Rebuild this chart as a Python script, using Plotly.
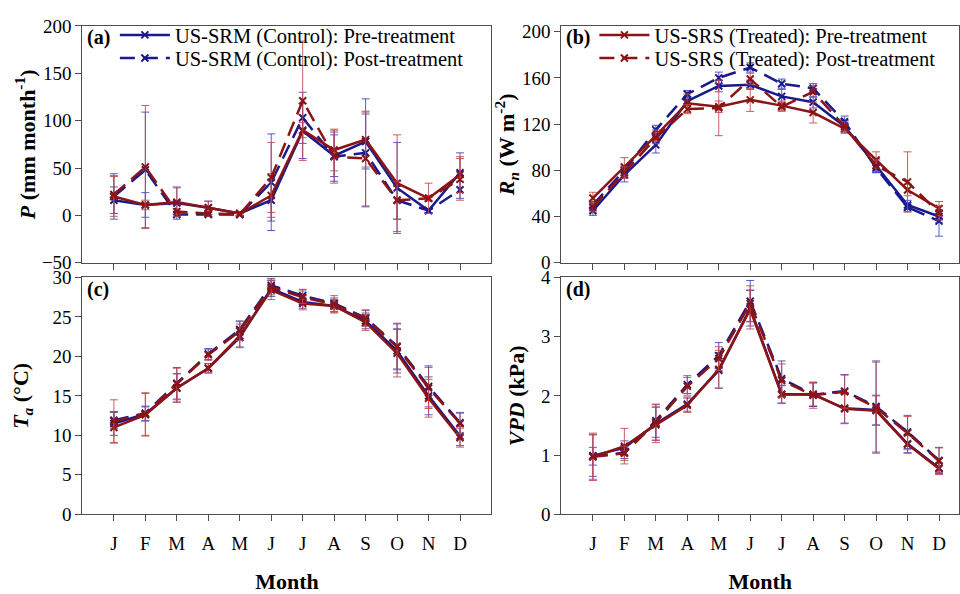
import plotly.graph_objects as go

months = ["J", "F", "M", "A", "M", "J", "J", "A", "S", "O", "N", "D"]
xpos = list(range(1, 13))

# Panel (a): Precipitation P (mm month-1)
p_ctrl_pre = [16, 11, 13, 8, 2, 16, 89, 63, 78, 29, 5, 45]
p_ctrl_post = [20, 48, 1, 1, 1, 35, 103, 62, 66, 16, 5, 27]
p_trt_pre = [20, 11, 14, 8, 2, 21, 90, 69, 80, 34, 18, 43]
p_trt_post = [22, 51, 4, 2, 1, 40, 121, 62, 60, 16, 18, 38]
p_ctrl_pre_err = [14, 13, 17, 7, 2, 22, 29, 22, 29, 48, 2, 21]
p_ctrl_post_err = [24, 61, 2, 2, 1, 51, 27, 26, 57, 20, 2, 9]
p_trt_pre_err = [21, 5, 15, 7, 2, 23, 8, 22, 29, 51, 16, 19]
p_trt_post_err = [20, 65, 3, 3, 1, 37, 63, 28, 50, 20, 3, 22]

# Panel (b): Net radiation Rn (W m-2)
r_ctrl_pre = [45, 76, 102, 140, 153, 154, 144, 139, 118, 84, 50, 40]
r_ctrl_post = [50, 80, 115, 146, 160, 169, 155, 151, 122, 82, 48, 36]
r_trt_pre = [56, 83, 110, 138, 135, 141, 136, 130, 116, 89, 63, 47]
r_trt_post = [48, 78, 108, 133, 134, 159, 135, 148, 118, 84, 70, 43]
r_ctrl_pre_err = [4, 6, 7, 4, 5, 4, 6, 5, 5, 6, 4, 5]
r_ctrl_post_err = [3, 4, 4, 3, 5, 4, 4, 4, 5, 4, 4, 13]
r_trt_pre_err = [5, 8, 5, 8, 5, 10, 4, 9, 4, 7, 5, 6]
r_trt_post_err = [4, 5, 5, 4, 24, 5, 4, 5, 4, 5, 26, 6]

# Panel (c): Air temperature Ta (degC)
t_ctrl_pre = [11.5, 12.7, 16.0, 18.5, 22.4, 28.6, 26.9, 26.4, 24.5, 20.7, 15.0, 9.9]
t_ctrl_post = [11.9, 12.8, 16.6, 20.3, 23.4, 29.0, 27.7, 26.7, 24.9, 21.3, 16.2, 11.6]
t_trt_pre = [11.0, 12.6, 16.0, 18.5, 22.6, 28.4, 26.7, 26.4, 24.3, 20.4, 14.7, 9.7]
t_trt_post = [11.8, 12.7, 16.5, 20.2, 23.2, 28.8, 27.5, 26.6, 24.8, 21.2, 16.0, 11.5]
t_ctrl_pre_err = [1.5, 0.9, 1.8, 0.6, 1.2, 1.0, 0.8, 0.7, 1.0, 2.8, 2.4, 1.2]
t_ctrl_post_err = [1.0, 0.9, 2.0, 0.7, 1.1, 0.9, 0.8, 0.7, 1.0, 2.9, 2.6, 1.3]
t_trt_pre_err = [2.0, 2.7, 1.8, 0.6, 1.5, 1.2, 0.8, 0.8, 1.0, 3.0, 2.4, 1.2]
t_trt_post_err = [2.7, 2.7, 2.0, 0.7, 1.2, 1.0, 0.8, 1.1, 1.0, 2.9, 2.6, 1.3]

# Panel (d): Vapour pressure deficit VPD (kPa)
v_ctrl_pre = [0.99, 1.12, 1.53, 1.86, 2.43, 3.48, 2.03, 2.02, 1.79, 1.76, 1.19, 0.78]
v_ctrl_post = [0.98, 1.04, 1.58, 2.19, 2.68, 3.60, 2.29, 2.02, 2.08, 1.82, 1.39, 0.91]
v_trt_pre = [0.97, 1.15, 1.51, 1.84, 2.45, 3.46, 2.02, 2.03, 1.78, 1.75, 1.18, 0.77]
v_trt_post = [0.97, 1.03, 1.55, 2.16, 2.63, 3.56, 2.26, 2.01, 2.07, 1.80, 1.37, 0.90]
v_ctrl_pre_err = [0.35, 0.12, 0.28, 0.12, 0.30, 0.30, 0.15, 0.20, 0.25, 0.25, 0.15, 0.08]
v_ctrl_post_err = [0.15, 0.10, 0.28, 0.15, 0.22, 0.35, 0.30, 0.20, 0.28, 0.77, 0.28, 0.22]
v_trt_pre_err = [0.40, 0.30, 0.30, 0.12, 0.32, 0.33, 0.15, 0.20, 0.25, 0.25, 0.15, 0.10]
v_trt_post_err = [0.38, 0.12, 0.30, 0.15, 0.20, 0.30, 0.28, 0.22, 0.28, 0.77, 0.28, 0.22]

series_names = [
    "US-SRM (Control): Pre-treatment",
    "US-SRM (Control): Post-treatment",
    "US-SRS (Treated): Pre-treatment",
    "US-SRS (Treated): Post-treatment",
]

BLUE = "#1a1a8c"
RED = "#8c1414"
BLUE_ERR = "rgba(60,60,200,0.85)"
RED_ERR = "rgba(190,70,70,0.85)"
FONT = "Liberation Serif, Times New Roman, serif"
AXIS_COLOR = "#4d4d4d"

styles = [
    (BLUE, BLUE_ERR, "solid"),
    (BLUE, BLUE_ERR, "15px,8px"),
    (RED, RED_ERR, "solid"),
    (RED, RED_ERR, "15px,8px"),
]

panels = [
    ("x", "y", [p_ctrl_pre, p_ctrl_post, p_trt_pre, p_trt_post],
     [p_ctrl_pre_err, p_ctrl_post_err, p_trt_pre_err, p_trt_post_err]),
    ("x2", "y2", [r_ctrl_pre, r_ctrl_post, r_trt_pre, r_trt_post],
     [r_ctrl_pre_err, r_ctrl_post_err, r_trt_pre_err, r_trt_post_err]),
    ("x3", "y3", [t_ctrl_pre, t_ctrl_post, t_trt_pre, t_trt_post],
     [t_ctrl_pre_err, t_ctrl_post_err, t_trt_pre_err, t_trt_post_err]),
    ("x4", "y4", [v_ctrl_pre, v_ctrl_post, v_trt_pre, v_trt_post],
     [v_ctrl_pre_err, v_ctrl_post_err, v_trt_pre_err, v_trt_post_err]),
]

# legend assignment: panel (a) shows control series, panel (b) shows treated series
legend_for = {(0, 0): "legend", (0, 1): "legend3", (1, 2): "legend2", (1, 3): "legend4"}

fig = go.Figure()
for pi, (xa, ya, vals, errs) in enumerate(panels):
    for si in range(4):
        color, ecolor, dash = styles[si]
        leg = legend_for.get((pi, si))
        fig.add_trace(go.Scatter(
            x=xpos, y=vals[si], xaxis=xa, yaxis=ya,
            mode="lines+markers",
            name=series_names[si],
            line=dict(color=color, width=2.5, dash=dash),
            marker=dict(symbol="x-thin", size=7, line=dict(color=color, width=2)),
            error_y=dict(type="data", array=errs[si], visible=True,
                         color=ecolor, thickness=1, width=4),
            showlegend=leg is not None,
            legend=leg if leg else "legend",
        ))

W, H = 960, 594
dom_x_left = [82.5 / W, 492 / W]
dom_x_right = [562 / W, 1.0]
dom_y_top = [1 - 262 / H, 1 - 16.5 / H]
dom_y_bot = [1 - 522.7 / H, 1 - 277.3 / H]

tickfont = dict(family=FONT, size=19, color="black")
titlefont = dict(family=FONT, size=22, color="black")

def xaxis(domain, rng, labels, anchor):
    d = dict(domain=domain, range=rng, anchor=anchor,
             tickmode="array", tickvals=xpos, ticktext=months,
             showticklabels=labels, ticks="outside", ticklen=6, tickwidth=1,
             tickcolor=AXIS_COLOR, showline=True, linecolor=AXIS_COLOR, linewidth=1,
             mirror=True, showgrid=False, zeroline=False, tickfont=tickfont,
             ticklabelstandoff=6)
    if labels:
        d["title"] = dict(text="<b>Month</b>", font=titlefont, standoff=22)
    return d

def yaxis(domain, rng, dtick, title, anchor, standoff):
    return dict(domain=domain, range=rng, anchor=anchor, dtick=dtick, tick0=0,
                ticks="outside", ticklen=6, tickwidth=1, tickcolor=AXIS_COLOR,
                showline=True, linecolor=AXIS_COLOR, linewidth=1, mirror=True,
                showgrid=False, zeroline=False, tickfont=tickfont,
                title=dict(text=title, font=titlefont, standoff=standoff))

xr_right = (W - 562) / 31.5

def legend_at(xpx, ypx):
    return dict(x=xpx / W, y=1 - ypx / H, xanchor="left", yanchor="middle",
                bgcolor="rgba(0,0,0,0)", borderwidth=0, itemwidth=50,
                font=dict(family=FONT, size=20.5, color="black"))

def panel_label(text, xpx, ypx):
    return dict(text="<b>%s</b>" % text, x=xpx / W, y=1 - ypx / H,
                xref="paper", yref="paper", xanchor="left", yanchor="middle",
                showarrow=False, font=dict(family=FONT, size=20, color="black"))

fig.update_layout(
    width=W, height=H,
    margin=dict(l=0, r=0, t=0, b=0),
    paper_bgcolor="white", plot_bgcolor="white",
    font=dict(family=FONT, color="black"),
    xaxis=xaxis(dom_x_left, [0, 13], False, "y"),
    yaxis=yaxis(dom_y_top, [-50, 200], 50,
                "<b><i>P</i> (mm month<sup>-1</sup>)</b>", "x", 0),
    xaxis2=xaxis(dom_x_right, [0, xr_right], False, "y2"),
    yaxis2=yaxis(dom_y_top, [0, 205], 40,
                 "<b><i>R</i><sub><i>n</i></sub> (W m<sup>-2</sup>)</b>", "x2", 0),
    xaxis3=xaxis(dom_x_left, [0, 13], True, "y3"),
    yaxis3=yaxis(dom_y_bot, [0, 30], 5,
                 "<b><i>T</i><sub><i>a</i></sub> (°C)</b>", "x3", 17),
    xaxis4=xaxis(dom_x_right, [0, xr_right], True, "y4"),
    yaxis4=yaxis(dom_y_bot, [0, 4], 1, "<b><i>VPD</i> (kPa)</b>", "x4", 10),
    legend=legend_at(115, 26),
    legend3=legend_at(115, 50),
    legend2=legend_at(595, 26),
    legend4=legend_at(595, 50),
    annotations=[
        panel_label("(a)", 85, 28),
        panel_label("(b)", 565, 28),
        panel_label("(c)", 85, 290),
        panel_label("(d)", 565, 290),
    ],
)

fig.write_html("out.html")
